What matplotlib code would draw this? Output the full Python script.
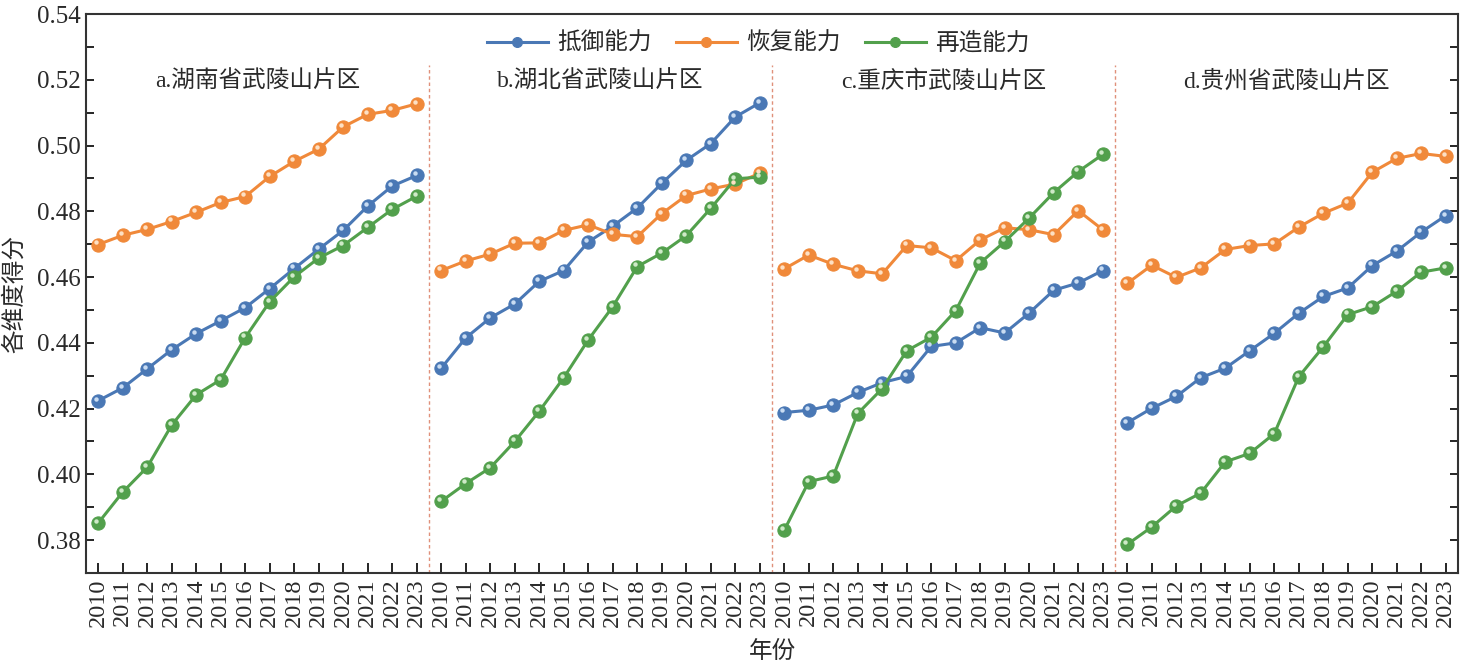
import numpy as np
import matplotlib
matplotlib.use("Agg")
import matplotlib.pyplot as plt
from matplotlib.ticker import MultipleLocator
from matplotlib.transforms import offset_copy

plt.rcParams['font.family'] = ['Liberation Serif', 'Noto Sans CJK SC']
plt.rcParams['axes.unicode_minus'] = False

# --- data ---
years = list(range(2010, 2024))
regions = ["a.湖南省武陵山片区", "b.湖北省武陵山片区", "c.重庆市武陵山片区", "d.贵州省武陵山片区"]
series_names = ["抵御能力", "恢复能力", "再造能力"]

resist = [
    [0.4224, 0.4263, 0.4321, 0.4379, 0.4428, 0.4467, 0.4507, 0.4565, 0.4626, 0.4685, 0.4742, 0.4816, 0.4877, 0.4909],
    [0.4323, 0.4415, 0.4476, 0.4518, 0.4587, 0.4620, 0.4707, 0.4755, 0.4810, 0.4885, 0.4955, 0.5006, 0.5087, 0.5130],
    [0.4188, 0.4195, 0.4211, 0.4249, 0.4279, 0.4298, 0.4389, 0.4400, 0.4446, 0.4430, 0.4491, 0.4560, 0.4582, 0.4620],
    [0.4157, 0.4201, 0.4237, 0.4294, 0.4323, 0.4376, 0.4429, 0.4490, 0.4541, 0.4567, 0.4635, 0.4679, 0.4737, 0.4787],
]
recover = [
    [0.4699, 0.4727, 0.4745, 0.4769, 0.4797, 0.4827, 0.4845, 0.4906, 0.4952, 0.4989, 0.5057, 0.5095, 0.5107, 0.5127],
    [0.4620, 0.4649, 0.4670, 0.4703, 0.4704, 0.4742, 0.4759, 0.4730, 0.4723, 0.4793, 0.4848, 0.4868, 0.4883, 0.4916],
    [0.4625, 0.4667, 0.4639, 0.4619, 0.4610, 0.4696, 0.4689, 0.4650, 0.4713, 0.4750, 0.4744, 0.4729, 0.4802, 0.4744],
    [0.4581, 0.4636, 0.4599, 0.4628, 0.4684, 0.4696, 0.4701, 0.4752, 0.4794, 0.4825, 0.4919, 0.4961, 0.4976, 0.4967],
]
rebuild = [
    [0.3852, 0.3946, 0.4022, 0.4150, 0.4242, 0.4288, 0.4416, 0.4525, 0.4601, 0.4658, 0.4696, 0.4751, 0.4806, 0.4846],
    [0.3918, 0.3972, 0.4020, 0.4100, 0.4192, 0.4294, 0.4409, 0.4510, 0.4632, 0.4673, 0.4726, 0.4809, 0.4899, 0.4904],
    [0.3830, 0.3978, 0.3995, 0.4185, 0.4261, 0.4376, 0.4417, 0.4498, 0.4643, 0.4708, 0.4780, 0.4857, 0.4921, 0.4973],
    [0.3787, 0.3840, 0.3904, 0.3943, 0.4038, 0.4064, 0.4124, 0.4297, 0.4388, 0.4486, 0.4510, 0.4557, 0.4615, 0.4628],
]

colors = ["#4a78b5", "#f0893a", "#52a04c"]
highlight = ["#c9dcf2", "#fde0c4", "#cfeac8"]
txt = "#2a2a2a"

fig = plt.figure(figsize=(14.62, 6.69), dpi=100)
ax = fig.add_axes([0.0588, 0.1435, 0.9385, 0.8355])

n = len(years)
hl_tr = offset_copy(ax.transData, fig=fig, x=-1.5, y=1.5, units='points')
for p in range(4):
    x = np.arange(n) + p * n
    for s, data in enumerate([resist, recover, rebuild]):
        ax.plot(x, data[p], color=colors[s], lw=2.2, marker='o', ms=9.5,
                mfc=colors[s], mec=colors[s], mew=0.8,
                label=series_names[s] if p == 0 else None, zorder=3)
        ax.plot(x, data[p], ls='none', marker='o', ms=3.2, mfc=highlight[s],
                mec='none', transform=hl_tr, zorder=4)
    ax.text(p * n + (n - 1) / 2, 0.5195, regions[p], ha='center', va='center',
            fontsize=17, color=txt)
    if p > 0:
        ax.plot([p * n - 0.5, p * n - 0.5], [0.37, 0.5245], ls=(0, (2.5, 2)),
                color='#e0907a', lw=1.0, zorder=1)

ax.set_xlim(-0.5, 4 * n - 0.5)
ax.set_ylim(0.37, 0.54)
ax.set_xticks(np.arange(4 * n))
ax.set_xticklabels([str(y) for y in years] * 4, rotation=90, fontsize=17.5, color=txt)
ax.yaxis.set_minor_locator(MultipleLocator(0.01))
ax.set_yticks(np.arange(0.38, 0.5401, 0.02))
ax.set_yticklabels([f"{v:.2f}" for v in np.arange(0.38, 0.5401, 0.02)], fontsize=18, color=txt)
ax.tick_params(axis='y', which='both', direction='in', length=6, width=1.2,
               left=True, right=True)
ax.tick_params(axis='x', direction='in', length=7, width=1.2, top=False, pad=4)
for sp in ax.spines.values():
    sp.set_linewidth(1.5)
    sp.set_color('#333333')

ax.set_ylabel("各维度得分", fontsize=17, labelpad=8, color=txt)
ax.set_xlabel("年份", fontsize=17, labelpad=10, color=txt)

leg = ax.legend(loc='upper center', bbox_to_anchor=(0.49, 1.005), ncol=3, frameon=False,
                fontsize=17, handlelength=2.6, columnspacing=1.0, handletextpad=0.4,
                markerscale=0.75)
for t in leg.get_texts():
    t.set_color(txt)

fig.savefig("out.png", dpi=100)
